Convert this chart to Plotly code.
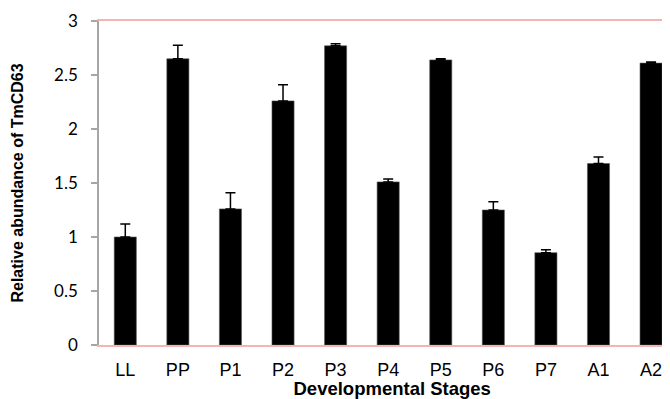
import plotly.graph_objects as go

stages = ["LL", "PP", "P1", "P2", "P3", "P4", "P5", "P6", "P7", "A1", "A2"]
abundance = [1.00, 2.65, 1.26, 2.26, 2.77, 1.51, 2.64, 1.25, 0.855, 1.68, 2.61]
sem = [0.12, 0.125, 0.15, 0.15, 0.02, 0.027, 0.01, 0.077, 0.027, 0.06, 0.01]
y_ticks = [0, 0.5, 1, 1.5, 2, 2.5, 3]
y_ticklabels = ["0", "0.5", "1", "1.5", "2", "2.5", "3"]

fig = go.Figure()
fig.add_trace(go.Bar(
    x=list(range(len(stages))),
    y=abundance,
    width=0.42,
    marker=dict(color="black", line=dict(color="#555555", width=0.6)),
    error_y=dict(type="data", array=sem, arrayminus=[0]*len(sem), symmetric=False,
                 color="black", thickness=1.5, width=5),
))

# page body has an 8px margin, so the figure is sized/margined to compensate
fig.update_layout(
    width=662, height=391,
    margin=dict(l=91, r=0, t=13, b=54),
    plot_bgcolor="white", paper_bgcolor="white",
    showlegend=False,
)
fig.update_xaxes(
    range=[-0.5, 10.36],
    tickmode="array", tickvals=list(range(len(stages))), ticktext=stages,
    showgrid=False, zeroline=False,
    showline=True, linecolor="#F4B4B4", linewidth=2, mirror=True,
    ticks="", ticklabelstandoff=7,
    tickfont=dict(family="Liberation Sans, Arial", size=18, color="black"),
    title=dict(text="&nbsp;&nbsp;&nbsp;<b>Developmental Stages</b>",
               font=dict(family="Liberation Sans, Arial", size=18.5, color="black"),
               standoff=3),
)
fig.update_yaxes(
    range=[0, 3],
    tickmode="array", tickvals=y_ticks, ticktext=y_ticklabels,
    showgrid=False, zeroline=False,
    showline=True, linecolor="#A6A6A6", linewidth=1.5,
    ticks="outside", ticklen=6, tickcolor="#A6A6A6", tickwidth=1.5,
    ticklabelstandoff=10,
    tickfont=dict(family="Lato, Open Sans", size=17, color="black"),
    title=dict(text="<b>Relative abundance of TmCD63</b>",
               font=dict(family="Liberation Sans, Arial", size=16, color="black"),
               standoff=27),
)

fig.write_html("out.html")
